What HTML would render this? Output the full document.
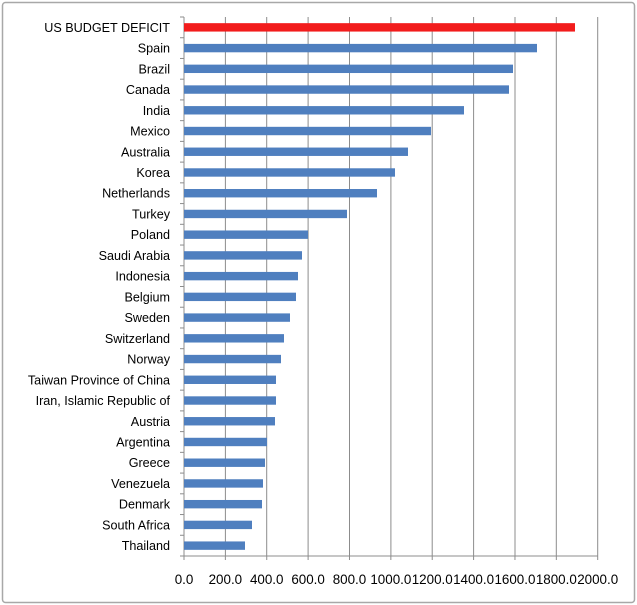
<!DOCTYPE html>
<html><head><meta charset="utf-8"><style>
html,body{margin:0;padding:0;background:#fff;}
svg{display:block;font-family:"Liberation Sans",sans-serif;}
</style></head><body>
<svg width="637" height="605" viewBox="0 0 637 605" xmlns="http://www.w3.org/2000/svg">
<rect x="2.5" y="2.5" width="632" height="600" rx="3" fill="#fff" stroke="#a8a8a8" stroke-width="1.5"/>
<g stroke="#8c8c8c" stroke-width="1">
<line x1="225.4" y1="17" x2="225.4" y2="556"/>
<line x1="266.7" y1="17" x2="266.7" y2="556"/>
<line x1="308.1" y1="17" x2="308.1" y2="556"/>
<line x1="349.5" y1="17" x2="349.5" y2="556"/>
<line x1="390.9" y1="17" x2="390.9" y2="556"/>
<line x1="432.2" y1="17" x2="432.2" y2="556"/>
<line x1="473.6" y1="17" x2="473.6" y2="556"/>
<line x1="515" y1="17" x2="515" y2="556"/>
<line x1="556.3" y1="17" x2="556.3" y2="556"/>
<line x1="597.7" y1="17" x2="597.7" y2="556"/>
<line x1="184" y1="17" x2="184" y2="560"/>
<line x1="180" y1="556" x2="597.7" y2="556"/>
</g>
<g id="bars"></g>
<g id="ticks" stroke="#8c8c8c"></g>
<g id="labels" font-size="12.6" fill="#000" text-anchor="end"></g>
<g id="xl" font-size="13.4" fill="#000" text-anchor="middle"></g>
<script>
(function(){
var ns="http://www.w3.org/2000/svg";
var d=[["US BUDGET DEFICIT",575],["Spain",537],["Brazil",513],["Canada",509],["India",464],["Mexico",431],["Australia",408],["Korea",395],["Netherlands",377],["Turkey",347],["Poland",308],["Saudi Arabia",302],["Indonesia",298],["Belgium",296],["Sweden",290],["Switzerland",284],["Norway",281],["Taiwan Province of China",276],["Iran, Islamic Republic of",276],["Austria",275],["Argentina",267],["Greece",265],["Venezuela",263],["Denmark",262],["South Africa",252],["Thailand",245]];
var t0=17,h=(556-17)/26;
function el(t,a,p,txt){var e=document.createElementNS(ns,t);for(var k in a)e.setAttribute(k,a[k]);if(txt)e.textContent=txt;document.getElementById(p).appendChild(e);}
for(var i=0;i<26;i++){var c=t0+h*(i+0.5);
el("rect",{x:184,y:c-4.2,width:d[i][1]-184,height:8.4,fill:i==0?"#f21c1c":"#4f7fbf"},"bars");
el("text",{x:170,y:c+4.5},"labels",d[i][0]);
el("line",{x1:180,y1:t0+h*i,x2:184,y2:t0+h*i},"ticks");}
for(var j=0;j<=10;j++){var x=184+41.37*j;
el("line",{x1:x,y1:556,x2:x,y2:560},"ticks");
el("text",{x:x,y:584},"xl",(j*200).toFixed(1));}
})();
</script>
</svg>
</body></html>
